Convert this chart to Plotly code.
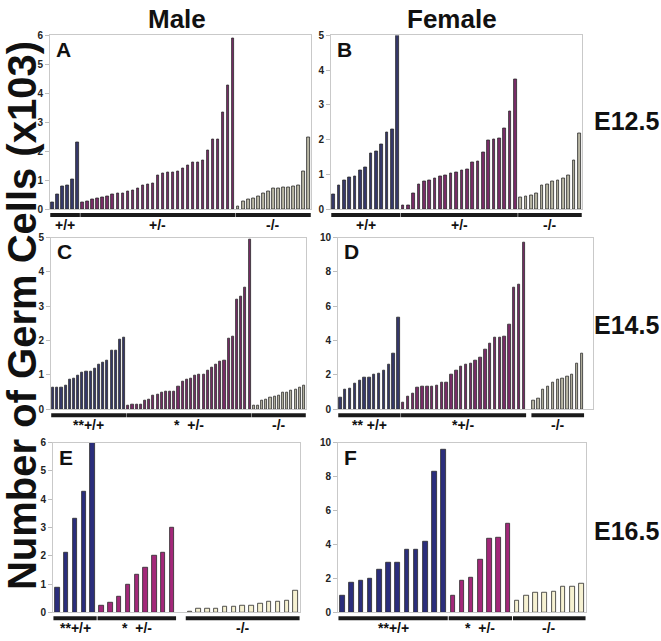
import plotly.graph_objects as go

W, H = 661, 641

# ---------------- data (x10^3 germ cells) ----------------
A_wt = [0.23, 0.51, 0.79, 0.83, 1.04, 2.30]
A_het = [0.23, 0.25, 0.34, 0.38, 0.40, 0.43, 0.50, 0.53, 0.53, 0.62, 0.66, 0.70, 0.83, 0.84, 0.89,
         1.17, 1.22, 1.27, 1.28, 1.30, 1.39, 1.51, 1.62, 1.63, 1.68, 2.04, 2.41, 2.41, 3.34, 4.29, 5.91]
A_ko = [0.11, 0.26, 0.34, 0.37, 0.43, 0.53, 0.62, 0.70, 0.71, 0.74, 0.76, 0.78, 0.83, 1.30, 2.49]

B_wt = [0.42, 0.68, 0.84, 0.91, 0.94, 1.10, 1.21, 1.59, 1.67, 1.86, 2.20, 2.30, 5.0]
B_het = [0.10, 0.10, 0.45, 0.70, 0.80, 0.84, 0.88, 0.95, 0.97, 1.03, 1.05, 1.12, 1.13, 1.33, 1.37,
         1.62, 1.97, 2.02, 2.03, 2.33, 2.82, 3.72]
B_ko = [0.33, 0.36, 0.39, 0.44, 0.68, 0.70, 0.81, 0.84, 0.87, 0.98, 1.40, 2.17]

C_wt = [0.62, 0.62, 0.63, 0.68, 0.87, 0.90, 0.99, 1.06, 1.10, 1.11, 1.19, 1.30, 1.36, 1.42, 1.70,
        1.72, 2.03, 2.10]
C_het = [0.10, 0.14, 0.14, 0.14, 0.25, 0.27, 0.39, 0.44, 0.48, 0.51, 0.52, 0.52, 0.65, 0.80, 0.87,
         0.90, 0.98, 1.00, 1.02, 1.12, 1.22, 1.31, 1.38, 1.41, 2.05, 2.12, 3.20, 3.29, 3.53, 4.95]
C_ko = [0.10, 0.12, 0.25, 0.28, 0.33, 0.38, 0.40, 0.48, 0.50, 0.55, 0.58, 0.62, 0.68]

D_wt = [0.70, 1.15, 1.20, 1.47, 1.68, 1.85, 1.85, 2.04, 2.10, 2.27, 2.58, 3.23, 5.33]
D_het = [0.38, 0.73, 0.94, 1.28, 1.30, 1.30, 1.30, 1.39, 1.53, 1.55, 2.04, 2.25, 2.48, 2.61, 2.69,
         2.82, 3.02, 3.45, 3.80, 4.16, 4.20, 4.26, 4.94, 7.06, 7.29, 9.73]
D_ko = [0.52, 0.65, 1.15, 1.30, 1.53, 1.74, 1.78, 1.89, 2.02, 2.69, 3.24]

E_wt = [0.87, 2.13, 3.33, 4.26, 6.0]
E_het = [0.25, 0.35, 0.55, 0.98, 1.35, 1.58, 2.02, 2.12, 2.98]
E_ko = [0.02, 0.12, 0.12, 0.14, 0.19, 0.20, 0.25, 0.25, 0.31, 0.37, 0.37, 0.40, 0.77]

F_wt = [0.96, 1.73, 1.85, 1.96, 2.54, 2.91, 2.91, 3.68, 3.68, 4.14, 8.30, 9.60]
F_het = [0.96, 1.85, 2.02, 3.12, 4.32, 4.41, 5.20]
F_ko = [0.67, 0.96, 1.17, 1.19, 1.25, 1.50, 1.54, 1.68]

col_titles = ["Male", "Female"]
row_titles = ["E12.5", "E14.5", "E16.5"]
y_title = "Number of Germ Cells (x103)"

# ---------------- styling / layout ----------------
FONT = "Arial, Liberation Sans, sans-serif"
dark_cols = ["#35386a", "#7a2c68", "#b9b7a5"]
bright_cols = ["#2b2e7c", "#a3287a", "#f6f1d2"]


def px_x(p):
    return p / W


def px_y(p):
    return 1 - p / H


panels = [
    dict(L="A", groups=[A_wt, A_het, A_ko], gaps=[0, 0], xd=(50, 311), yd=(30, 207), ymax=6, dt=1,
         labels=["+/+", "+/-", "-/-"], cols=dark_cols, extra=0.0),
    dict(L="B", groups=[B_wt, B_het, B_ko], gaps=[0, 0], xd=(331, 582), yd=(30, 207), ymax=5, dt=1,
         labels=["+/+", "+/-", "-/-"], cols=dark_cols, extra=0.0),
    dict(L="C", groups=[C_wt, C_het, C_ko], gaps=[0, 0], xd=(51, 306), yd=(236, 411), ymax=5, dt=1,
         labels=["**+/+", "*  +/-", "-/-"], cols=dark_cols, extra=0.0),
    dict(L="D", groups=[D_wt, D_het, D_ko], gaps=[0, 1], xd=(338, 593), yd=(236, 411), ymax=10, dt=2,
         labels=["** +/+", "*+/-", "-/-"], cols=dark_cols, extra=1.8),
    dict(L="E", groups=[E_wt, E_het, E_ko], gaps=[0, 1], xd=(53, 300), yd=(445, 618), ymax=6, dt=1,
         labels=["**+/+", "*  +/-", "-/-"], cols=bright_cols, extra=0.0),
    dict(L="F", groups=[F_wt, F_het, F_ko], gaps=[0, 0], xd=(338, 586), yd=(445, 618), ymax=10, dt=2,
         labels=["**+/+", "*  +/-", "-/-"], cols=bright_cols, extra=0.0),
]

fig = go.Figure()
shapes = []
annotations = []
layout = {}

for i, p in enumerate(panels):
    n = i + 1
    xa = "x" if n == 1 else f"x{n}"
    ya = "y" if n == 1 else f"y{n}"
    pos = 0
    spans = []
    for g, (vals, col) in enumerate(zip(p["groups"], p["cols"])):
        xs = list(range(pos, pos + len(vals)))
        fig.add_trace(go.Bar(
            x=xs, y=vals, width=0.5, xaxis=xa, yaxis=ya, showlegend=False,
            marker=dict(color=col, line=dict(color="#2a2a2a", width=0.8)),
        ))
        spans.append((pos, pos + len(vals) - 1))
        pos += len(vals)
        if g < 2:
            pos += p["gaps"][g]
    xmax = pos - 0.5 + p["extra"]
    layout["xaxis" if n == 1 else f"xaxis{n}"] = dict(
        domain=[px_x(p["xd"][0]), px_x(p["xd"][1])], range=[-0.5, xmax], anchor=ya,
        showticklabels=False, ticks="", showgrid=False, zeroline=False,
        showline=True, mirror=True, linecolor="#c9c9c9", linewidth=1, fixedrange=True,
    )
    layout["yaxis" if n == 1 else f"yaxis{n}"] = dict(
        domain=[px_y(p["yd"][1]), px_y(p["yd"][0])], range=[0, p["ymax"]], anchor=xa,
        dtick=p["dt"], tick0=0, ticks="outside", ticklen=4, tickcolor="#bdbdbd",
        showgrid=False, zeroline=False, showline=True, mirror=True, linecolor="#c9c9c9",
        linewidth=1, tickfont=dict(family=FONT, size=10, color="#222", weight="bold"),
        fixedrange=True,
    )
    base = p["yd"][1]
    for (s, e), lab in zip(spans, p["labels"]):
        shapes.append(dict(type="line", xref=xa, yref="paper", x0=s - 0.45, x1=e + 0.45,
                           y0=px_y(base + 6), y1=px_y(base + 6),
                           line=dict(color="#1a1a1a", width=4)))
        annotations.append(dict(text=f"<b>{lab}</b>", xref=xa, yref="paper", x=(s + e) / 2,
                                y=px_y(base + 16), showarrow=False, xanchor="center",
                                yanchor="middle",
                                font=dict(family=FONT, size=14, color="#111")))
    annotations.append(dict(text=f"<b>{p['L']}</b>", xref=f"{xa} domain", yref=f"{ya} domain",
                            x=0.015, y=0.995, xanchor="left", yanchor="top", showarrow=False,
                            font=dict(family=FONT, size=21, color="#111")))

# column titles
for t, cx in zip(col_titles, [177, 452]):
    annotations.append(dict(text=f"<b>{t}</b>", xref="paper", yref="paper", x=px_x(cx), y=px_y(13),
                            xanchor="center", yanchor="middle", showarrow=False,
                            font=dict(family=FONT, size=26, color="#111")))
# row titles
for t, cy in zip(row_titles, [117, 325, 535]):
    annotations.append(dict(text=f"<b>{t}</b>", xref="paper", yref="paper", x=px_x(626), y=px_y(cy),
                            xanchor="center", yanchor="middle", showarrow=False,
                            font=dict(family=FONT, size=25, color="#111")))
# y axis title
annotations.append(dict(text=f"<b>{y_title}</b>", xref="paper", yref="paper", x=px_x(22), y=px_y(316),
                        xanchor="center", yanchor="middle", textangle=-90, showarrow=False,
                        font=dict(family=FONT, size=40, color="#111")))

fig.update_layout(
    width=W, height=H, margin=dict(l=0, r=0, t=0, b=0),
    paper_bgcolor="white", plot_bgcolor="white", bargap=0,
    shapes=shapes, annotations=annotations, **layout,
)

fig.write_html("out.html", config={"displayModeBar": False},
               post_script="document.body.style.margin='0';")
